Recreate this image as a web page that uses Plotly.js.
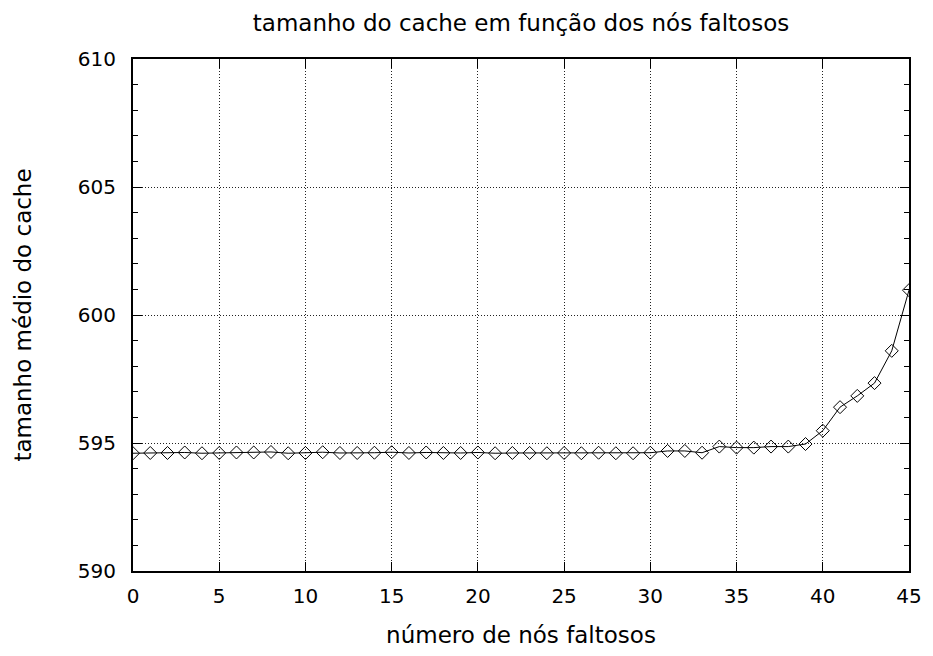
<!DOCTYPE html>
<html>
<head>
<meta charset="utf-8">
<script src="https://cdn.plot.ly/plotly-3.0.1.min.js"></script>
<style>html,body{margin:0;padding:0;background:#fff;}#chart{width:933px;height:656px;}</style>
</head>
<body>
<div id="chart"></div>
<script>
const faultyNodes = [0,1,2,3,4,5,6,7,8,9,10,11,12,13,14,15,16,17,18,19,20,21,22,23,24,25,26,27,28,29,30,31,32,33,34,35,36,37,38,39,40,41,42,43,44,45];
const cacheSize = [594.60,594.61,594.61,594.63,594.60,594.61,594.63,594.63,594.65,594.60,
                   594.61,594.64,594.61,594.61,594.62,594.64,594.61,594.63,594.61,594.61,
                   594.63,594.60,594.61,594.61,594.60,594.61,594.60,594.62,594.60,594.60,
                   594.62,594.69,594.69,594.62,594.86,594.82,594.82,594.86,594.86,594.96,
                   595.48,596.40,596.84,597.34,598.60,600.97];
const xTicks = [0,5,10,15,20,25,30,35,40,45];
const yTicks = [590,595,600,605,610];
const titleText = "tamanho do cache em função dos nós faltosos";
const xTitle = "número de nós faltosos";
const yTitle = "tamanho médio do cache";

const fam = "DejaVu Sans, Liberation Sans, sans-serif";
const tickFont = {family: fam, size: 20, color: "#000"};
const titleFont = {family: fam, size: 23, color: "#000"};
const axTitleFont = {family: fam, size: 23, color: "#000"};

Plotly.newPlot("chart", [{
  x: faultyNodes, y: cacheSize, type: "scatter", mode: "lines+markers",
  line: {color: "#000", width: 1},
  marker: {symbol: "diamond-open", size: 10, color: "#000", line: {width: 1, color: "#000"}},
  showlegend: false
}], {
  width: 933, height: 656,
  margin: {l: 133, r: 24, t: 59, b: 85},
  paper_bgcolor: "#fff", plot_bgcolor: "#fff",
  font: tickFont,
  title: {text: titleText, font: titleFont, xref: "paper", x: 0.5, xanchor: "center", yref: "container", y: 0.965, yanchor: "middle"},
  xaxis: {
    range: [0, 45], tickvals: xTicks, ticktext: xTicks.map(String),
    ticks: "inside", ticklen: 9, tickcolor: "#000", tickwidth: 1,
    ticklabelstandoff: 6,
    showline: true, linecolor: "#000", linewidth: 2, mirror: "allticks",
    showgrid: true, gridcolor: "#222", griddash: "1px,2px", gridwidth: 1,
    zeroline: false,
    title: {text: xTitle, font: axTitleFont, standoff: 20},
    tickfont: tickFont
  },
  yaxis: {
    range: [590, 610], tickvals: yTicks, ticktext: yTicks.map(String),
    ticks: "inside", ticklen: 9, tickcolor: "#000", tickwidth: 1,
    ticklabelstandoff: 11,
    minor: {dtick: 1, ticks: "inside", ticklen: 5, tickcolor: "#000", showgrid: false},
    showline: true, linecolor: "#000", linewidth: 2, mirror: "allticks",
    showgrid: true, gridcolor: "#222", griddash: "1px,2px", gridwidth: 1,
    zeroline: false,
    title: {text: yTitle, font: axTitleFont, standoff: 40},
    tickfont: tickFont
  }
}, {displayModeBar: false, staticPlot: true});
</script>
</body>
</html>
